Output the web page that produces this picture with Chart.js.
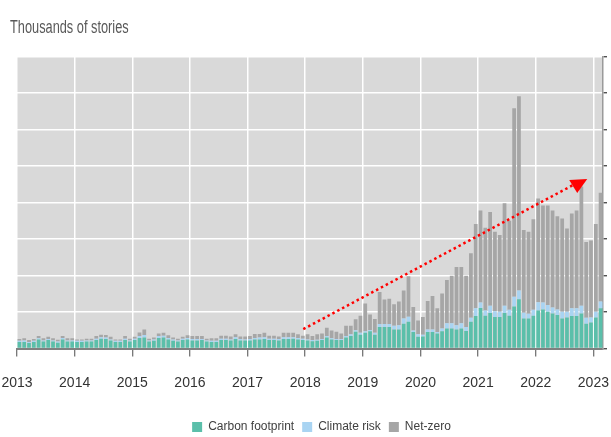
<!DOCTYPE html>
<html lang="en">
<head>
<meta charset="UTF-8">
<title>Thousands of stories</title>
<script src="https://cdn.jsdelivr.net/npm/chart.js"></script>
<style>
  html, body { margin: 0; padding: 0; background: #fff; }
  #wrap { position: relative; width: 611px; height: 437px; }
</style>
</head>
<body>
<div id="wrap"><canvas id="chart"></canvas></div>
<script>
// monthly story counts, thousands, Jan 2013 - Feb 2023
const chartTitle = 'Thousands of stories';
const years = [2013, 2014, 2015, 2016, 2017, 2018, 2019, 2020, 2021, 2022, 2023];

const carbonFootprint = [
  0.18, 0.18, 0.15, 0.18, 0.25, 0.19, 0.23, 0.19, 0.16, 0.25, 0.19, 0.19, // 2013
  0.18, 0.18, 0.19, 0.19, 0.23, 0.27, 0.26, 0.22, 0.18, 0.18, 0.23, 0.19, // 2014
  0.23, 0.29, 0.30, 0.19, 0.21, 0.29, 0.30, 0.25, 0.21, 0.19, 0.23, 0.25, // 2015
  0.22, 0.22, 0.23, 0.19, 0.18, 0.18, 0.23, 0.23, 0.22, 0.26, 0.22, 0.22, // 2016
  0.22, 0.25, 0.25, 0.26, 0.23, 0.23, 0.22, 0.26, 0.26, 0.27, 0.25, 0.23, // 2017
  0.22, 0.20, 0.21, 0.23, 0.30, 0.25, 0.23, 0.23, 0.30, 0.34, 0.46, 0.38, // 2018
  0.43, 0.47, 0.38, 0.59, 0.59, 0.59, 0.52, 0.52, 0.68, 0.73, 0.45, 0.32, // 2019
  0.33, 0.45, 0.45, 0.41, 0.47, 0.55, 0.55, 0.52, 0.55, 0.48, 0.73, 0.89, // 2020
  1.11, 0.90, 0.97, 0.86, 0.86, 0.97, 0.90, 1.15, 1.35, 0.82, 0.82, 0.90, // 2021
  1.04, 1.07, 1.01, 0.96, 0.92, 0.82, 0.85, 0.89, 0.89, 0.96, 0.68, 0.71, // 2022
  0.85, 1.10                                                              // 2023
];
const climateRisk = [
  0.03, 0.04, 0.03, 0.03, 0.03, 0.03, 0.03, 0.03, 0.03, 0.04, 0.03, 0.03,
  0.03, 0.03, 0.03, 0.03, 0.04, 0.04, 0.04, 0.03, 0.03, 0.03, 0.04, 0.03,
  0.04, 0.05, 0.07, 0.03, 0.04, 0.05, 0.05, 0.04, 0.04, 0.03, 0.04, 0.04,
  0.04, 0.04, 0.03, 0.03, 0.03, 0.03, 0.04, 0.04, 0.03, 0.05, 0.04, 0.03,
  0.04, 0.04, 0.05, 0.05, 0.04, 0.04, 0.04, 0.05, 0.05, 0.04, 0.04, 0.04,
  0.03, 0.03, 0.03, 0.03, 0.04, 0.03, 0.03, 0.03, 0.04, 0.05, 0.04, 0.05,
  0.04, 0.04, 0.05, 0.08, 0.08, 0.08, 0.10, 0.12, 0.14, 0.14, 0.04, 0.07,
  0.05, 0.07, 0.07, 0.04, 0.08, 0.14, 0.14, 0.12, 0.14, 0.11, 0.11, 0.21,
  0.15, 0.14, 0.20, 0.16, 0.15, 0.20, 0.16, 0.27, 0.24, 0.16, 0.13, 0.16,
  0.23, 0.19, 0.18, 0.16, 0.15, 0.19, 0.16, 0.21, 0.21, 0.21, 0.16, 0.14,
  0.16, 0.19
];
const netZero = [
  0.05, 0.06, 0.05, 0.05, 0.06, 0.06, 0.06, 0.06, 0.05, 0.05, 0.06, 0.06,
  0.04, 0.04, 0.05, 0.05, 0.07, 0.07, 0.07, 0.07, 0.04, 0.04, 0.07, 0.05,
  0.05, 0.10, 0.15, 0.05, 0.05, 0.07, 0.08, 0.07, 0.05, 0.05, 0.05, 0.07,
  0.08, 0.08, 0.08, 0.05, 0.07, 0.07, 0.08, 0.08, 0.08, 0.08, 0.07, 0.08,
  0.08, 0.11, 0.10, 0.12, 0.08, 0.08, 0.07, 0.12, 0.12, 0.12, 0.10, 0.08,
  0.14, 0.11, 0.15, 0.15, 0.23, 0.21, 0.20, 0.15, 0.28, 0.23, 0.30, 0.47,
  0.76, 0.42, 0.38, 0.88, 0.67, 0.69, 0.59, 0.65, 0.77, 1.11, 0.65, 0.38,
  0.48, 0.78, 0.92, 0.65, 0.96, 1.19, 1.30, 1.59, 1.54, 1.40, 1.77, 2.31,
  2.52, 2.27, 2.57, 2.18, 2.10, 2.81, 2.44, 5.16, 5.32, 2.27, 2.25, 2.48,
  2.84, 2.66, 2.73, 2.66, 2.55, 2.55, 2.28, 2.60, 2.68, 3.27, 2.08, 2.11,
  2.40, 2.98
];

// dotted trend arrow, in data units (x = month index, y = thousands)
const trendFrom = { x: 59.1, y: 0.53 };
const trendTo = { x: 115.3, y: 4.48 };

// month labels "2013-01" ... cut to the length of the data
const months = [];
years.forEach(y => {
  for (let m = 1; m <= 12; m++) months.push(y + '-' + String(m).padStart(2, '0'));
});
months.length = carbonFootprint.length;

const FONT = "'Liberation Sans', Arial, sans-serif";
const isJan = ctx => ctx.tick && months[ctx.index] && months[ctx.index].endsWith('-01');

const plotBackground = {
  id: 'plotBackground',
  beforeDraw(chart) {
    const { ctx, chartArea: a } = chart;
    ctx.save();
    ctx.fillStyle = '#d9d9d9';
    ctx.fillRect(a.left, a.top, a.right - a.left, a.bottom - a.top);
    ctx.restore();
  }
};

// title uses a condensed face in the original, so squeeze it a bit
const titleText = {
  id: 'titleText',
  afterDraw(chart) {
    const ctx = chart.ctx;
    ctx.save();
    ctx.translate(10, 33);
    ctx.scale(0.71, 1);
    ctx.font = '18px ' + FONT;
    ctx.fillStyle = '#595959';
    ctx.textBaseline = 'alphabetic';
    ctx.fillText(chartTitle, 0, 0);
    ctx.restore();
  }
};

const trendArrow = {
  id: 'trendArrow',
  afterDatasetsDraw(chart) {
    const { ctx, scales: { x, y } } = chart;
    const x0 = x.getPixelForValue(trendFrom.x), y0 = y.getPixelForValue(trendFrom.y);
    const x1 = x.getPixelForValue(trendTo.x), y1 = y.getPixelForValue(trendTo.y);
    ctx.save();
    ctx.strokeStyle = '#ff0000';
    ctx.lineWidth = 2.5;
    ctx.setLineDash([2.5, 3]);
    ctx.beginPath();
    ctx.moveTo(x0, y0);
    ctx.lineTo(x1, y1);
    ctx.stroke();
    ctx.setLineDash([]);
    ctx.fillStyle = '#ff0000';
    ctx.beginPath();
    ctx.moveTo(x1 - 4, y1 - 5);
    ctx.lineTo(x1 + 14, y1 - 6);
    ctx.lineTo(x1 + 4, y1 + 8);
    ctx.closePath();
    ctx.fill();
    ctx.restore();
  }
};

// legend sits a little right of centre in the original
const legendShift = {
  id: 'legendShift',
  afterLayout(chart) {
    chart.legend.left += 9.5;
    chart.legend.right += 9.5;
  }
};

new Chart(document.getElementById('chart'), {
  type: 'bar',
  data: {
    labels: months,
    datasets: [
      { label: 'Carbon footprint', data: carbonFootprint, backgroundColor: '#5bbfaa' },
      { label: 'Climate risk', data: climateRisk, backgroundColor: '#a9d4f2' },
      { label: 'Net-zero', data: netZero, backgroundColor: '#a6a6a6' }
    ]
  },
  options: {
    responsive: true,
    maintainAspectRatio: false,
    animation: false,
    events: [],
    devicePixelRatio: 1,
    datasets: { bar: { barPercentage: 0.78, categoryPercentage: 1 } },
    layout: { padding: { top: 56.5, left: 17, right: 4, bottom: -6 } },
    plugins: {
      title: { display: false },
      tooltip: { enabled: false },
      legend: {
        position: 'bottom',
        labels: {
          boxWidth: 10, boxHeight: 10, padding: 8,
          color: '#404040',
          font: { family: FONT, size: 12 }
        }
      }
    },
    scales: {
      x: {
        stacked: true,
        offset: true,
        grid: {
          offset: true,
          color: ctx => isJan(ctx) ? '#ffffff' : 'rgba(0,0,0,0)',
          lineWidth: 1.5,
          tickColor: ctx => isJan(ctx) ? '#4d4d4d' : 'rgba(0,0,0,0)',
          tickLength: 8,
          tickWidth: 1
        },
        border: { display: true, color: '#808080', width: 2 },
        ticks: {
          autoSkip: false, maxRotation: 0, minRotation: 0,
          padding: 1, labelOffset: -2.4,
          color: '#333333',
          font: { family: FONT, size: 14, lineHeight: 1.2 },
          callback: (v, i) => months[i].endsWith('-01') ? ['', months[i].slice(0, 4)] : ''
        },
        afterFit: s => { s.height = 64.5; }
      },
      y: {
        position: 'right',
        stacked: true,
        min: 0, max: 8,
        ticks: { stepSize: 1, display: false },
        grid: { color: '#ffffff', lineWidth: 1.5, tickColor: '#333333', tickLength: 4, tickWidth: 1.2 },
        border: { display: true, color: '#9a9a9a', width: 1.5 }
      }
    }
  },
  plugins: [plotBackground, titleText, trendArrow, legendShift]
});
</script>
</body>
</html>
